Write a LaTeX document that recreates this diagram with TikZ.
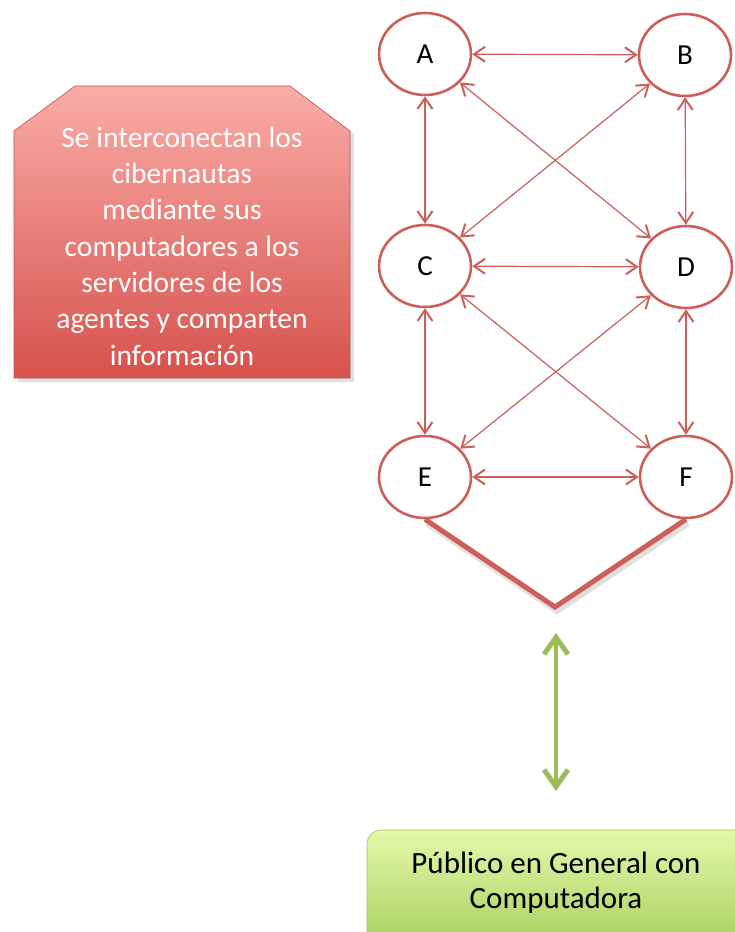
\documentclass[tikz,border=0pt]{standalone}
\usepackage{fontspec}
\setmainfont{Carlito}
\usetikzlibrary{shapes.geometric,arrows.meta}
\definecolor{redline}{RGB}{205,95,90}
\definecolor{redtop}{RGB}{250,172,167}
\definecolor{redbot}{RGB}{214,82,77}
\definecolor{redborder}{RGB}{190,80,76}
\definecolor{greentop}{RGB}{228,248,170}
\definecolor{greenbot}{RGB}{166,206,92}
\definecolor{greenborder}{RGB}{160,192,95}
\definecolor{greenarrow}{RGB}{155,187,89}
\tikzset{
  agent/.style={ellipse, draw=redline, line width=2.6pt, fill=white,
    minimum width=92pt, minimum height=82pt, inner sep=0pt,
    font=\fontsize{29}{32}\selectfont},
  link/.style={draw=redline, line width=1.2pt,
    {Straight Barb[length=11pt,width=15pt,line width=2pt]}-{Straight Barb[length=11pt,width=15pt,line width=2pt]}},
  bigarrow/.style={draw=greenarrow, line width=4.5pt,
    {Straight Barb[length=17pt,width=24pt,line width=5pt]}-{Straight Barb[length=17pt,width=24pt,line width=5pt]}},
}
\begin{document}
\begin{tikzpicture}[x=1pt,y=-1pt]
\useasboundingbox (0,0) rectangle (735,932);
\clip (0,0) rectangle (735,932);

% red snipped box
\fill[black!12] (78,89) -- (293,89) -- (354,134) -- (354,382) -- (18,382) -- (18,134) -- cycle;
\shade[top color=redtop, bottom color=redbot, draw=redborder, line width=0.6pt]
  (75,86) -- (290,86) -- (350,131) -- (350,378) -- (14,378) -- (14,131) -- cycle;
\node[text=white, align=center, font=\fontsize{29.5}{36.3}\selectfont] (info) at (182,246)
  {Se interconectan los\\cibernautas\\mediante sus\\computadores a los\\servidores de los\\agentes y comparten\\información};

% agents
\node[agent] (A) at (425,54) {A};
\node[agent] (B) at (685,55) {B};
\node[agent] (C) at (425,266) {C};
\node[agent] (D) at (686,267) {D};
\node[agent] (E) at (425,477) {E};
\node[agent] (F) at (686,477) {F};

% links
\draw[link] (A) -- (B);
\draw[link] (C) -- (D);
\draw[link] (E) -- (F);
\draw[link] (A) -- (C);
\draw[link] (B) -- (D);
\draw[link] (C) -- (E);
\draw[link] (D) -- (F);
\draw[link] (A) -- (D);
\draw[link] (B) -- (C);
\draw[link] (C) -- (F);
\draw[link] (D) -- (E);

% chevron
\coordinate (V) at (555,607);
\draw[black!12, line width=6pt, line join=miter] ([xshift=2pt,yshift=-4pt]E.south) -- ([xshift=2pt,yshift=-4pt]V) -- ([xshift=2pt,yshift=-4pt]F.south);
\draw[redline, line width=5pt, line join=miter] (E.south) -- (V) -- (F.south);

% public box
\fill[black!12] (370,834) rectangle (745,945);
\shade[top color=greentop, bottom color=greenbot, draw=greenborder, line width=0.6pt, rounded corners=14pt]
  (367,830) rectangle (750,950);
\node[align=center, font=\fontsize{31}{35}\selectfont] (pub) at (556,883)
  {Público en General con\\Computadora};

% green arrow
\coordinate (up) at (556,633);
\coordinate (down) at (556,791);
\draw[bigarrow] (up) -- (down);
\end{tikzpicture}
\end{document}
